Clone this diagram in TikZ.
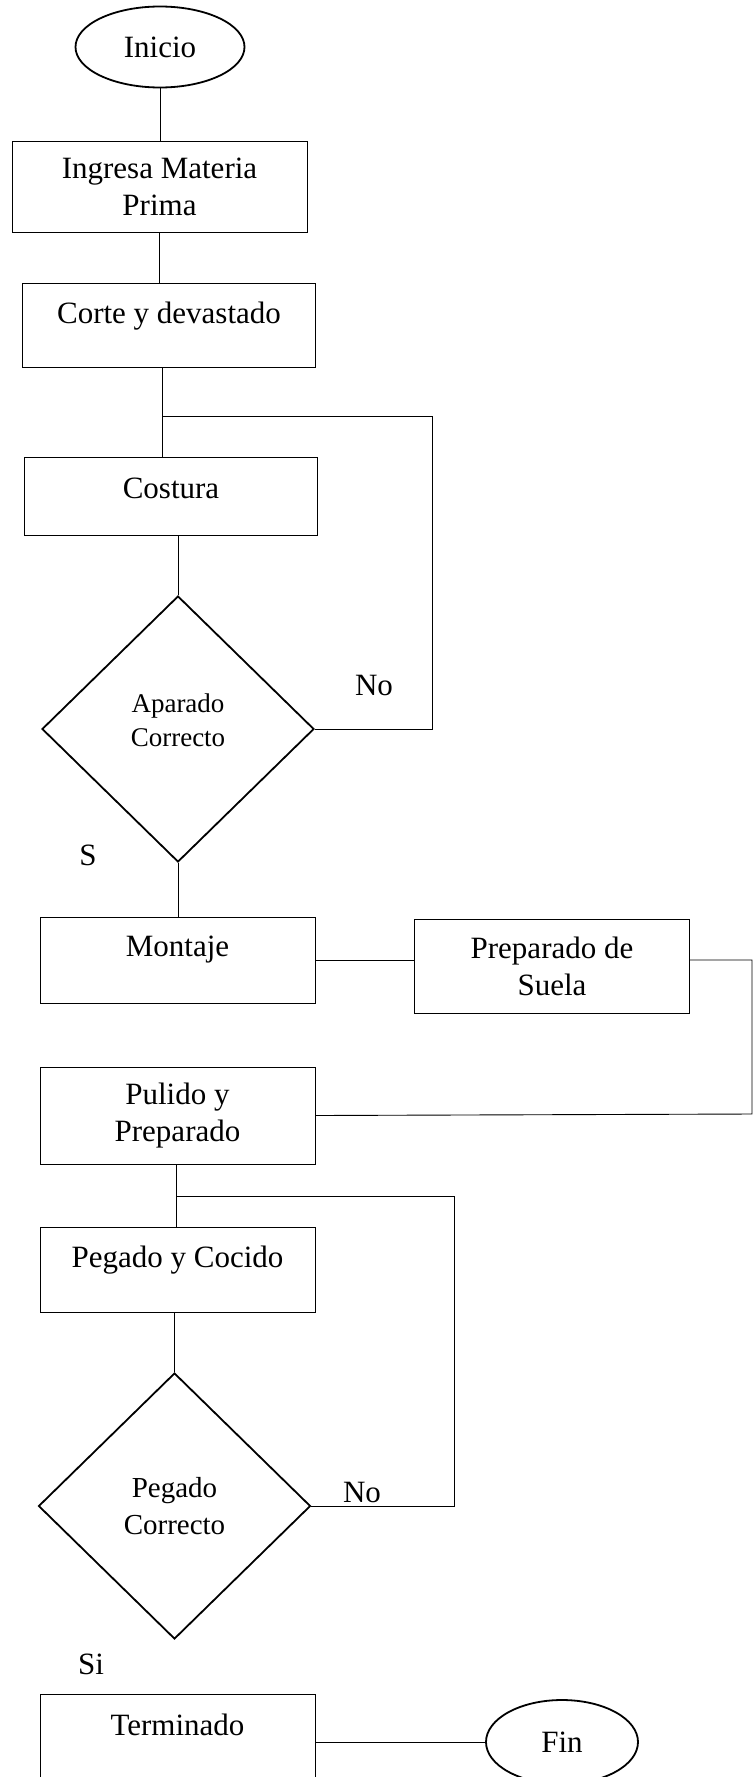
\documentclass[tikz,border=0pt]{standalone}
\usepackage{fontspec}
\setmainfont{Liberation Serif}
\usetikzlibrary{shapes.geometric}

\begin{document}
\begin{tikzpicture}[x=1pt, y=-1pt, line width=0.9pt,
    proc/.style={draw, rectangle, inner sep=0pt, align=center,
        font=\fontsize{31}{37}\selectfont},
    term/.style={draw, ellipse, line width=1.8pt, inner sep=0pt,
        font=\fontsize{31}{37}\selectfont},
    decision/.style={draw, diamond, line width=1.8pt, inner sep=0pt, align=center,
        minimum width=272pt, minimum height=266pt},
    answer/.style={inner sep=0pt, font=\fontsize{31}{37}\selectfont}]

    \useasboundingbox (0,0) rectangle (755,1777);
    \clip (0,0) rectangle (755,1777);

    % main column
    \node[term, minimum width=169pt, minimum height=81pt] (inicio) at (160,47) {Inicio};
    \node[proc, minimum width=295pt, minimum height=91pt] (ingresa) at (159.5,186.5) {Ingresa Materia\\Prima};
    \node[proc, text depth=25pt, minimum width=293pt, minimum height=84pt] (corte) at (169,325) {Corte y devastado};
    \node[proc, text depth=15pt, minimum width=293pt, minimum height=78pt] (costura) at (171,496) {Costura};
    \node[decision, text depth=18pt, font=\fontsize{27}{34}\selectfont] (aparado) at (178,729) {Aparado\\Correcto};
    \node[proc, text depth=27pt, minimum width=275pt, minimum height=86pt] (montaje) at (177.5,960) {Montaje};
    \node[proc, minimum width=275pt, minimum height=94pt] (suela) at (552,966) {Preparado de\\Suela};
    \node[proc, minimum width=275pt, minimum height=97pt] (pulido) at (177.5,1115.5) {Pulido y\\Preparado};
    \node[proc, text depth=25pt, minimum width=275pt, minimum height=85pt] (pegado) at (177.5,1269.5) {Pegado y Cocido};
    \node[decision, font=\fontsize{29}{37}\selectfont] (pegadoOk) at (174.5,1506) {Pegado\\Correcto};
    \node[proc, text depth=29pt, minimum width=275pt, minimum height=90pt] (terminado) at (177.5,1739) {Terminado};
    \node[term, minimum width=152pt, minimum height=84pt] (fin) at (562,1742) {Fin};

    % answers
    \node[answer] (no1) at (374,685) {No};
    \node[answer] (si1) at (88,855) {S};
    \node[answer] (no2) at (362,1492) {No};
    \node[answer] (si2) at (91,1664) {Si};

    % junctions of the loops
    \coordinate (join1) at (162,416);
    \coordinate (turn1) at (432,416);
    \coordinate (join2) at (176,1196);
    \coordinate (turn2) at (454,1196);
    \coordinate (edge) at (752,1114);

    \draw (inicio.south) -- (inicio.south |- ingresa.north);
    \draw (ingresa.south) -- (ingresa.south |- corte.north);
    \draw (corte.south -| join1) -- (costura.north -| join1);
    \draw (aparado.north |- costura.south) -- (aparado.north);
    \draw (aparado.south) -- (aparado.south |- montaje.north);
    \draw (aparado.east) -| (turn1) -- (join1);

    \draw (montaje.east) -- (montaje.east -| suela.west);
    \draw (suela.east |- montaje.east) -| (edge) -- (pulido.east);

    \draw (pulido.south -| join2) -- (pegado.north -| join2);
    \draw (pegadoOk.north |- pegado.south) -- (pegadoOk.north);
    \draw (pegadoOk.east) -| (turn2) -- (join2);

    \draw (terminado.east |- fin.west) -- (fin.west);
\end{tikzpicture}
\end{document}
